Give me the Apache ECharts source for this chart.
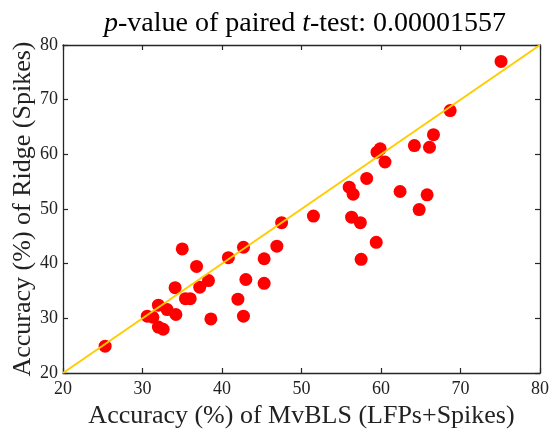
<!DOCTYPE html>
<html>
<head>
<meta charset="utf-8">
<script src="https://cdn.jsdelivr.net/npm/echarts@6/dist/echarts.min.js"></script>
<style>
html,body{margin:0;padding:0;background:#fff;}
#chart{width:552px;height:429px;}
</style>
</head>
<body>
<div id="chart"></div>
<script>
var xValues = [25.3, 30.6, 31.3, 32.0, 32.0, 32.6, 33.1, 34.1, 34.2, 35.0, 35.4, 36.0, 36.8, 37.2, 38.3, 38.6, 40.8, 42.0, 42.7, 43.0, 42.7, 45.3, 45.3, 46.9, 47.5, 51.5, 56.0, 56.5, 56.3, 57.4, 57.5, 58.2, 59.4, 59.5, 59.9, 60.5, 62.4, 64.2, 64.8, 65.8, 66.1, 66.6, 68.7, 75.1];
var yValues = [24.9, 30.4, 30.2, 32.4, 28.4, 28.0, 31.6, 35.6, 30.7, 42.7, 33.6, 33.6, 39.5, 35.7, 36.9, 29.9, 41.1, 33.5, 43.0, 37.1, 30.4, 40.9, 36.4, 43.2, 47.5, 48.7, 54.0, 52.7, 48.5, 47.5, 40.8, 55.6, 43.9, 60.4, 61.0, 58.6, 53.2, 61.6, 49.9, 52.6, 61.3, 63.6, 68.0, 77.0];
var diagonal = [[20, 20], [80, 80]];
var titleParts = ['p', '-value of paired ', 't', '-test: 0.00001557'];
var xLabel = 'Accuracy (%) of MvBLS (LFPs+Spikes)';
var yLabel = 'Accuracy (%) of Ridge (Spikes)';

var points = xValues.map(function (x, i) { return [x, yValues[i]]; });
var serif = '"Liberation Serif", "DejaVu Serif", serif';
var axisColor = '#262626';

var chart = echarts.init(document.getElementById('chart'));
var axisCommon = {
  min: 20, max: 80, interval: 10,
  axisLine: { show: true, onZero: false, lineStyle: { color: axisColor, width: 1.3 } },
  axisTick: { show: true, inside: true, length: 5, lineStyle: { color: axisColor, width: 1.2 } },
  splitLine: { show: false }
};
chart.setOption({
  animation: false,
  backgroundColor: '#fff',
  title: {
    text: '{i|' + titleParts[0] + '}{n|' + titleParts[1] + '}{i|' + titleParts[2] + '}{n|' + titleParts[3] + '}',
    left: 300, textAlign: 'center', top: 5,
    textStyle: {
      fontWeight: 'normal',
      rich: {
        i: { fontFamily: serif, fontStyle: 'italic', fontWeight: 'normal', fontSize: 28, color: '#000' },
        n: { fontFamily: serif, fontWeight: 'normal', fontSize: 28, color: '#000' }
      }
    }
  },
  grid: { left: 63, right: 12, top: 45, bottom: 56, containLabel: false, outerBoundsMode: 'none' },
  xAxis: [
    Object.assign({}, axisCommon, {
      type: 'value', position: 'bottom',
      name: xLabel, nameLocation: 'middle', nameGap: 28,
      nameTextStyle: { fontFamily: serif, fontSize: 26, color: '#222' },
      axisLabel: { fontFamily: serif, fontSize: 18, color: '#222', margin: 7 }
    }),
    Object.assign({}, axisCommon, {
      type: 'value', position: 'top', axisLabel: { show: false }
    })
  ],
  yAxis: [
    Object.assign({}, axisCommon, {
      type: 'value', position: 'left',
      name: yLabel, nameLocation: 'middle', nameGap: 27, nameMoveOverlap: false,
      nameTextStyle: { fontFamily: serif, fontSize: 26, color: '#222' },
      axisLabel: { fontFamily: serif, fontSize: 18, color: '#222', margin: 5 }
    }),
    Object.assign({}, axisCommon, {
      type: 'value', position: 'right', axisLabel: { show: false }
    })
  ],
  series: [
    {
      type: 'scatter', data: points, symbol: 'circle', symbolSize: 13,
      itemStyle: { color: '#ff0000', opacity: 1 }, z: 2
    },
    {
      type: 'line', data: diagonal, showSymbol: false, symbol: 'none',
      lineStyle: { color: '#ffcc00', width: 2 }, z: 3
    }
  ]
});
</script>
</body>
</html>
